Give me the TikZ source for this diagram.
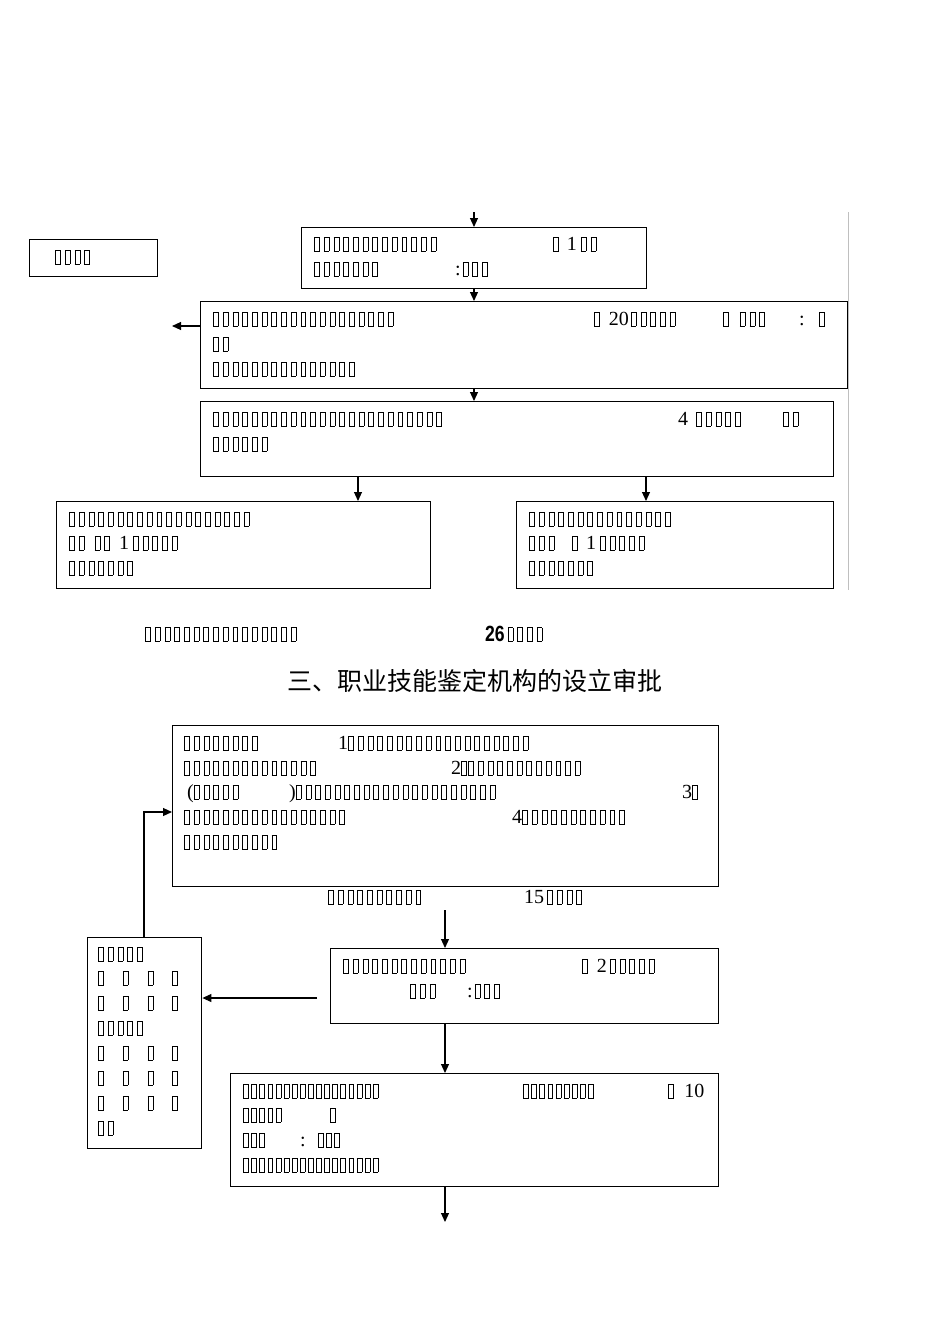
\documentclass[tikz,border=0pt]{standalone}
\usepackage{fontspec}
\setmainfont{Liberation Serif}
\newfontfamily\cjk{Noto Sans CJK SC}
\newfontfamily\bsans{Liberation Sans}
\usetikzlibrary{arrows.meta}
\newlength\tfpitch \setlength\tfpitch{9.7pt}
\ExplSyntaxOn
\NewDocumentCommand\tfone{}{\makebox[\tfpitch][l]{\setlength\fboxsep{0pt}\setlength\fboxrule{0.55pt}\fbox{\rule{0pt}{13pt}\hspace{4.4pt}}}}
\NewDocumentCommand\tf{m}{\prg_replicate:nn{#1}{\tfone}}
\ExplSyntaxOff
\newcommand\gp[1]{\hspace*{#1pt}}
\tikzset{
 box/.style={draw,line width=1.4pt,anchor=north west,inner sep=0pt},
 txt/.style={anchor=base west,inner sep=0pt,font=\fontsize{20}{20}\selectfont},
 arr/.style={-{Triangle[length=9pt,width=8pt]},line width=1.1pt},
}
\newcommand\tx[3]{\node[txt] at (#1,#2+6.5) {#3};}
\begin{document}
\begin{tikzpicture}[x=1pt,y=-1pt]
\useasboundingbox (0,0) rectangle (950,1344);
% ---------- top part ----------
\node[box,minimum width=345,minimum height=61] (b1) at (301,227) {};
\node[box,line width=1.1pt,minimum width=128,minimum height=37] (b0) at (29,239) {};
\node[box,minimum width=647,minimum height=87] (b2) at (200,301) {};
\node[box,minimum width=633,minimum height=75] (b3) at (200,401) {};
\node[box,minimum width=374,minimum height=87] (b4) at (56,501) {};
\node[box,minimum width=317,minimum height=87] (b5) at (516,501) {};
\coordinate (top) at (474,212);
\coordinate (lft) at (172,326);
\draw[arr] (top) -- (b1.north -| top);
\draw[arr] (b1.south -| top) -- (b2.north -| top);
\draw[arr] (b2.south -| top) -- (b3.north -| top);
\draw[arr] (b2.west |- lft) -- (lft);
\coordinate (d1) at (358,476); \coordinate (d2) at (646,476);
\draw[arr] (d1) -- (d1 |- b4.north);
\draw[arr] (d2) -- (d2 |- b5.north);
\draw[gray!50,line width=0.8pt] (848,212) -- (848,590);
\tx{55}{257}{\tf{4}}
\tx{314}{244}{\tf{13}} \tx{553}{244}{\tfone\gp{4}1\gp{4}\tf{2}}
\tx{314}{269}{\tf{7}} \tx{455}{269}{:\gp{2}\tf{3}}
\tx{213}{319}{\tf{19}} \tx{594}{319}{\tfone\gp{5}20\gp{2}\tf{5}}
\tx{723}{319}{\tfone\gp{7}\tf{3}} \tx{799}{319}{:} \tx{819}{319}{\tfone}
\tx{213}{344}{\tf{2}} \tx{213}{369}{\tf{15}}
\tx{213}{419}{\tf{24}} \tx{678}{419}{4\gp{8}\tf{5}} \tx{783}{419}{\tf{2}}
\tx{213}{444}{\tf{6}}
\tx{69}{519}{\tf{19}} \tx{69}{543}{\tf{2}\gp{6}\tf{2}\gp{5}1\gp{4}\tf{5}} \tx{69}{568}{\tf{7}}
\tx{529}{519}{\tf{15}} \tx{529}{543}{\tf{3}\gp{14}\tfone\gp{4}1\gp{4}\tf{5}} \tx{529}{568}{\tf{7}}
\tx{145}{634}{\tf{16}}
\node[anchor=base west,inner sep=0pt] (n26) at (485,641) {\scalebox{0.8}[1]{\bsans\bfseries\fontsize{22}{22}\selectfont 26}\gp{3}\fontsize{18}{18}\selectfont\tf{4}};
\node[anchor=center,inner sep=0pt,font=\cjk\fontsize{25}{25}\selectfont] (title) at (475,681) {三、职业技能鉴定机构的设立审批};
% ---------- bottom part ----------
\node[box,minimum width=546,minimum height=161] (c1) at (172,725) {};
\node[box,minimum width=388,minimum height=75] (c2) at (330,948) {};
\node[box,minimum width=114,minimum height=211] (c3) at (87,937) {};
\node[box,minimum width=488,minimum height=113] (c4) at (230,1073) {};
\coordinate (a1) at (445,910);
\coordinate (a2) at (317,998);
\coordinate (a3) at (445,1222);
\coordinate (fb) at (144,812);
\draw[arr] (a1) -- (a1 |- c2.north);
\draw[arr] (a2) -- (c3.east |- a2);
\draw[arr] (c2.south -| a1) -- (c4.north -| a1);
\draw[arr] (c4.south -| a1) -- (a3);
\draw[arr] (c3.north -| fb) -- (fb) -- (c1.west |- fb);
\tx{184}{743}{\tf{8}} \tx{338}{743}{1\tf{19}}
\tx{184}{768}{\tf{14}} \tx{451}{768}{2\tfone} \tx{468}{768}{\tf{12}}
\tx{187}{792}{(\tf{5}} \tx{289}{792}{)\tf{21}} \tx{682}{792}{3\tfone}
\tx{184}{817}{\tf{17}} \tx{512}{817}{4\tf{11}}
\tx{184}{842}{\tf{10}}
\tx{328}{897}{\tf{10}} \tx{524}{897}{15\gp{3}\tf{4}}
\tx{343}{966}{\tf{13}} \tx{582}{966}{\tfone\gp{5}2\gp{3}\tf{5}}
\tx{410}{991}{\tf{3}} \tx{467}{991}{:\gp{2}\tf{3}}
\tx{98}{954}{\tf{5}}
\tx{98}{978}{\tfone\gp{15}\tfone\gp{15}\tfone\gp{15}\tfone}
\tx{98}{1003}{\tfone\gp{15}\tfone\gp{15}\tfone\gp{15}\tfone}
\tx{98}{1028}{\tf{5}}
\tx{98}{1053}{\tfone\gp{15}\tfone\gp{15}\tfone\gp{15}\tfone}
\tx{98}{1078}{\tfone\gp{15}\tfone\gp{15}\tfone\gp{15}\tfone}
\tx{98}{1103}{\tfone\gp{15}\tfone\gp{15}\tfone\gp{15}\tfone}
\tx{98}{1128}{\tf{2}}
\begin{scope}
\setlength\tfpitch{8.1pt}
\tx{243}{1091}{\tf{17}} \tx{523}{1091}{\tf{9}} \tx{668}{1091}{\tfone\gp{8}10}
\tx{243}{1115}{\tf{5}} \tx{330}{1115}{\tfone}
\tx{243}{1140}{\tf{3}} \tx{300}{1140}{:} \tx{318}{1140}{\tf{3}}
\tx{243}{1165}{\tf{17}}
\end{scope}
\end{tikzpicture}
\end{document}
